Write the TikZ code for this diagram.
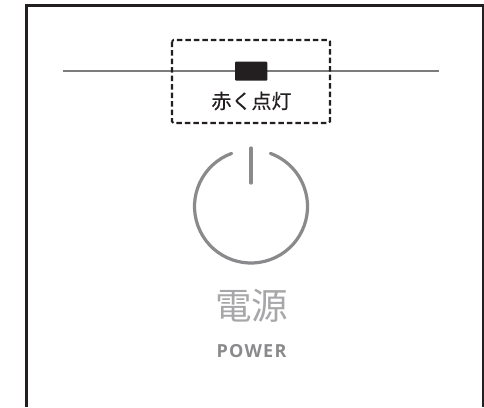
\documentclass[tikz,border=0pt]{standalone}
\usepackage{fontspec}
\setmainfont{Open Sans}
\newfontfamily\cjk{Noto Sans CJK JP}
\newfontfamily\cjkheavy[FakeBold=0.4]{Noto Sans CJK JP}
\definecolor{panelgray}{HTML}{8A8A8C}
\definecolor{inkblack}{HTML}{231F20}
\tikzset{
  frameline/.style={draw=inkblack,line width=2.8pt},
  panelline/.style={draw=panelgray,line width=3.2pt,line cap=round},
  hairline/.style={draw=panelgray!90!black,line width=2pt},
  dashbox/.style={draw=inkblack,line width=2.1pt,dash pattern=on 5.5pt off 3pt,rounded corners=1.5pt},
  label/.style={inner sep=0pt,text=inkblack}
}
\begin{document}
\begin{tikzpicture}[x=1pt,y=-1pt]
\useasboundingbox (0,0) rectangle (484,407);
\fill[white] (0,0) rectangle (484,407);
\draw[frameline] (26.5,407) -- (26.5,5.5) -- (483,5.5) -- (483,407);
\draw[hairline] (63,70.7) -- (439,70.7);
\fill[inkblack,rounded corners=1pt] (235,61.7) rectangle (267.3,80.7);
\draw[dashbox] (172,40) rectangle (330,123);
\node[label,font=\cjkheavy\fontsize{20}{20}\selectfont] (lit) at (251.5,101) {赤く点灯};
\draw[panelline] (231.7,153.4) arc[start angle=250,end angle=-70,radius=56.5];
\draw[panelline] (251,148) -- (251,183);
\node[label,text=panelgray!75,font=\cjk\fontsize{36.5}{36.5}\selectfont] (dengen) at (251.5,306) {電源};
\node[label,text=panelgray,font=\fontsize{18}{18}\selectfont\bfseries] (power) at (251.5,351.5) {\addfontfeatures{LetterSpace=7}POWER};
\end{tikzpicture}
\end{document}
